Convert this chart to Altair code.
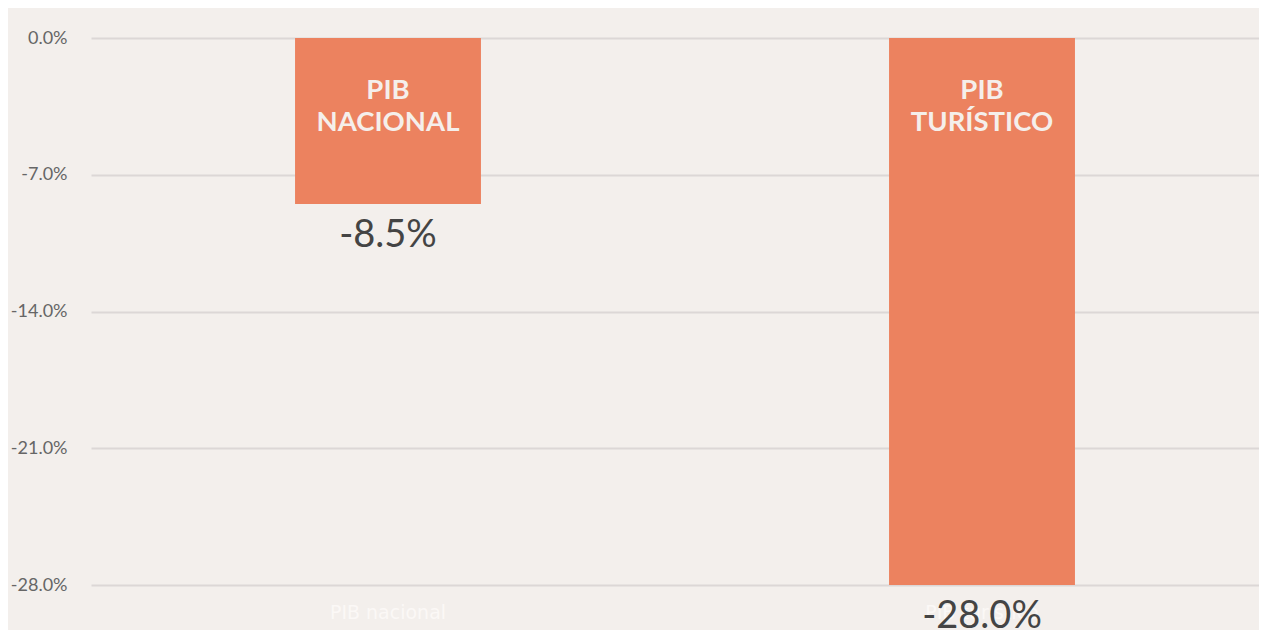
import altair as alt
import pandas as pd

categories = ["PIB nacional", "PIB turístico"]
values = [-8.5, -28.0]
inner_labels = [["PIB", "NACIONAL"], ["PIB", "TURÍSTICO"]]
tick_values = [0, -7, -14, -21, -28]

df = pd.DataFrame({
    "cat": categories,
    "value": values,
    "inner": inner_labels,
})

BAR = "#ec825f"
BG = "#f3efec"

PCT = "(datum.value < 0 ? '-' : '') + format(abs(datum.value), '.1f') + '%'"

x = alt.X(
    "cat:N",
    sort=categories,
    scale=alt.Scale(range=[-2, 1186], paddingInner=0.687, paddingOuter=0.3435),
    axis=alt.Axis(
        title=None, labelAngle=0, domain=False, ticks=False,
        labelColor="#fbf8f6", labelFontSize=19, labelFont="DejaVu Sans",
        labelPadding=18, grid=False,
    ),
)
y = alt.Y(
    "value:Q",
    scale=alt.Scale(domain=[-28, 0], nice=False, zero=True),
    axis=alt.Axis(
        title=None, values=tick_values, domain=False, ticks=False,
        labelExpr=PCT,
        labelColor="#666666", labelFontSize=18, labelFont="Lato",
        labelPadding=26, gridColor="#dcd7d6", gridWidth=2,
    ),
)

bars = alt.Chart(df).mark_bar(color=BAR).encode(x=x, y=y)

value_text = alt.Chart(df).transform_calculate(
    label=PCT
).mark_text(
    font="Lato", fontSize=38, color="#444444", baseline="alphabetic", dy=43,
    align="center",
).encode(
    x=alt.X("cat:N", sort=categories),
    y=alt.Y("value:Q"),
    text="label:N",
)

inner_text = alt.Chart(df).mark_text(
    font="Lato", fontWeight="bold", fontSize=27.5, color="#f5efeb",
    baseline="alphabetic", lineHeight=32, align="center", dy=61,
).encode(
    x=alt.X("cat:N", sort=categories),
    y=alt.value(0),
    text="inner",
)

chart = (
    alt.layer(bars, inner_text, value_text)
    .properties(
        width=1166, height=547,
        autosize=alt.AutoSizeParams(type="none"),
        padding={"left": 85, "top": 30, "right": 0, "bottom": 45},
        background=BG,
    )
    .configure_view(stroke=None)
)

chart.save("out.html", embed_options={"renderer": "svg", "actions": False})
